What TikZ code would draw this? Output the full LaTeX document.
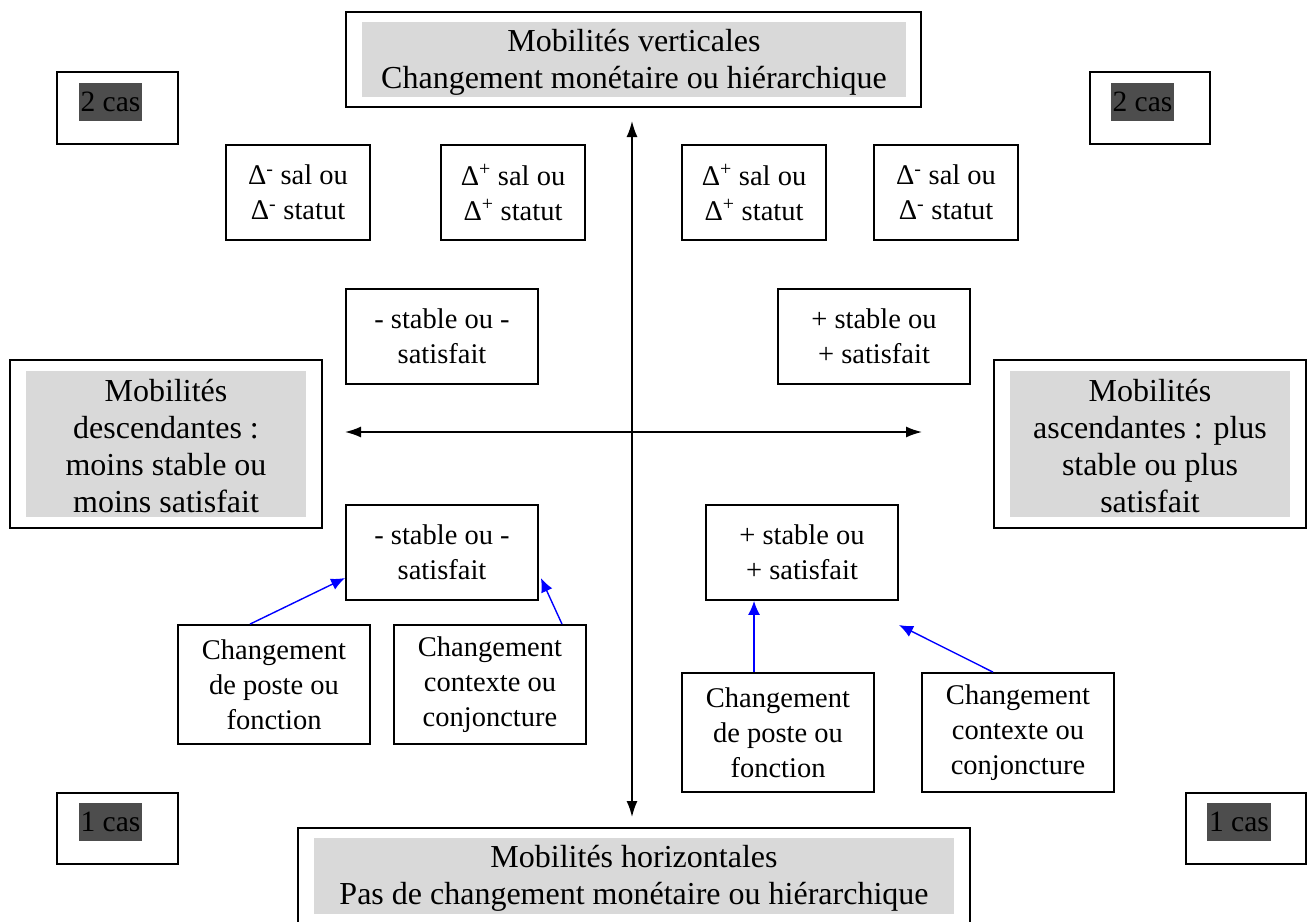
\documentclass[tikz,border=0pt]{standalone}
\usepackage{fontspec}
\setmainfont{Liberation Serif}
\usetikzlibrary{arrows.meta,calc}
\definecolor{lgray}{HTML}{D9D9D9}
\definecolor{dgray}{HTML}{4D4D4D}
\begin{document}
\begin{tikzpicture}[x=1pt,y=-1pt,
  txt/.style={font=\fontsize{28.5}{35}\selectfont, align=center},
  box/.style={txt, draw, line width=1.8pt, inner sep=0pt},
  frame/.style={draw, line width=1.8pt, inner sep=0pt},
  shade/.style={fill=lgray, inner sep=0pt},
  stxt/.style={font=\fontsize{32}{37}\selectfont, align=center, inner sep=0pt},
  hl/.style={font=\fontsize{29.5}{35}\selectfont, fill=dgray, inner xsep=2pt, inner ysep=0pt, minimum height=38pt},
  blk/.style={line width=1.6pt, {Latex[length=16pt,width=11pt]}-{Latex[length=16pt,width=11pt]}},
  blu/.style={blue, line width=1.4pt, -{Latex[length=14pt,width=12pt]}}]
\useasboundingbox (0,0) rectangle (1313,921);

% top title
\node[frame, minimum width=575, minimum height=95] (top) at (633.5,59.5) {};
\node[shade, minimum width=544, minimum height=75] (topg) at (634,59.5) {};
\node[stxt] (topt) at (634,62.5) {Mobilités verticales\\Changement monétaire ou hiérarchique};

% bottom title
\node[frame, minimum width=672, minimum height=100] (bot) at (634,878) {};
\node[shade, minimum width=640, minimum height=76] (botg) at (634,876) {};
\node[stxt] (bott) at (634,878) {Mobilités horizontales\\Pas de changement monétaire ou hiérarchique};

% left / right titles
\node[frame, minimum width=312, minimum height=168] (lft) at (166,444) {};
\node[shade, minimum width=280, minimum height=146] (lftg) at (166,444) {};
\node[stxt] (lftt) at (166,446.5) {Mobilités\\descendantes :\\moins stable ou\\moins satisfait};
\node[frame, minimum width=312, minimum height=168] (rgt) at (1150,444) {};
\node[shade, minimum width=280, minimum height=146] (rgtg) at (1150,444) {};
\node[stxt] (rgtt) at (1150,446.5) {Mobilités\\ascendantes : plus\\stable ou plus\\satisfait};

% cas boxes
\node[frame, minimum width=121, minimum height=72] (c1) at (117.5,108) {};
\node[hl] (c1t) at (110.5,102) {2 cas};
\node[frame, minimum width=120, minimum height=72] (c2) at (1150,108) {};
\node[hl] (c2t) at (1142.5,102) {2 cas};
\node[frame, minimum width=121, minimum height=71] (c3) at (117.5,828.5) {};
\node[hl] (c3t) at (110.5,822) {1 cas};
\node[frame, minimum width=120, minimum height=71] (c4) at (1246,828.5) {};
\node[hl] (c4t) at (1239,822) {1 cas};

% delta boxes
\node[box, minimum width=144, minimum height=95] (d1) at (298,192.5) {Δ\textsuperscript{-} sal ou\\Δ\textsuperscript{-} statut};
\node[box, minimum width=144, minimum height=95] (d2) at (513,192.5) {Δ\textsuperscript{+} sal ou\\Δ\textsuperscript{+} statut};
\node[box, minimum width=144, minimum height=95] (d3) at (754,192.5) {Δ\textsuperscript{+} sal ou\\Δ\textsuperscript{+} statut};
\node[box, minimum width=144, minimum height=95] (d4) at (946,192.5) {Δ\textsuperscript{-} sal ou\\Δ\textsuperscript{-} statut};

% stable boxes
\node[box, minimum width=192, minimum height=95] (su1) at (442,336.5) {- stable ou -\\satisfait};
\node[box, minimum width=192, minimum height=95] (su2) at (874,336.5) {+ stable ou\\+ satisfait};
\node[box, minimum width=192, minimum height=95] (sl) at (442,552.5) {- stable ou -\\satisfait};
\node[box, minimum width=192, minimum height=95] (sr) at (802,552.5) {+ stable ou\\+ satisfait};

% changement boxes
\node[box, minimum width=192, minimum height=119] (cl1) at (274,684.5) {Changement\\de poste ou\\fonction};
\node[box, minimum width=192, minimum height=119] (cl2) at (490,684.5) {Changement\\contexte ou\\conjoncture};
\node[box, minimum width=192, minimum height=119] (cr1) at (778,732.5) {Changement\\de poste ou\\fonction};
\node[box, minimum width=192, minimum height=119] (cr2) at (1018,732.5) {Changement\\contexte ou\\conjoncture};

% axes
\coordinate (vt) at (632,121);
\coordinate (vb) at (632,817);
\coordinate (hl) at (345,432);
\coordinate (hr) at (922,432);
\draw[blk] (vt) -- (vb);
\draw[blk] (hl) -- (hr);

% blue arrows
\coordinate (free) at (899,625);
\draw[blu] ($(cl1.north)+(-24,0)$) -- ($(sl.west)+(0,25.5)$);
\draw[blu] ($(cl2.north)+(72,0)$) -- ($(sl.east)+(2,25.5)$);
\draw[blu] ($(cr1.north)+(-24,0)$) -- ($(sr.south)+(-48,0)$);
\draw[blu] ($(cr2.north)+(-25,0)$) -- (free);
\end{tikzpicture}
\end{document}
